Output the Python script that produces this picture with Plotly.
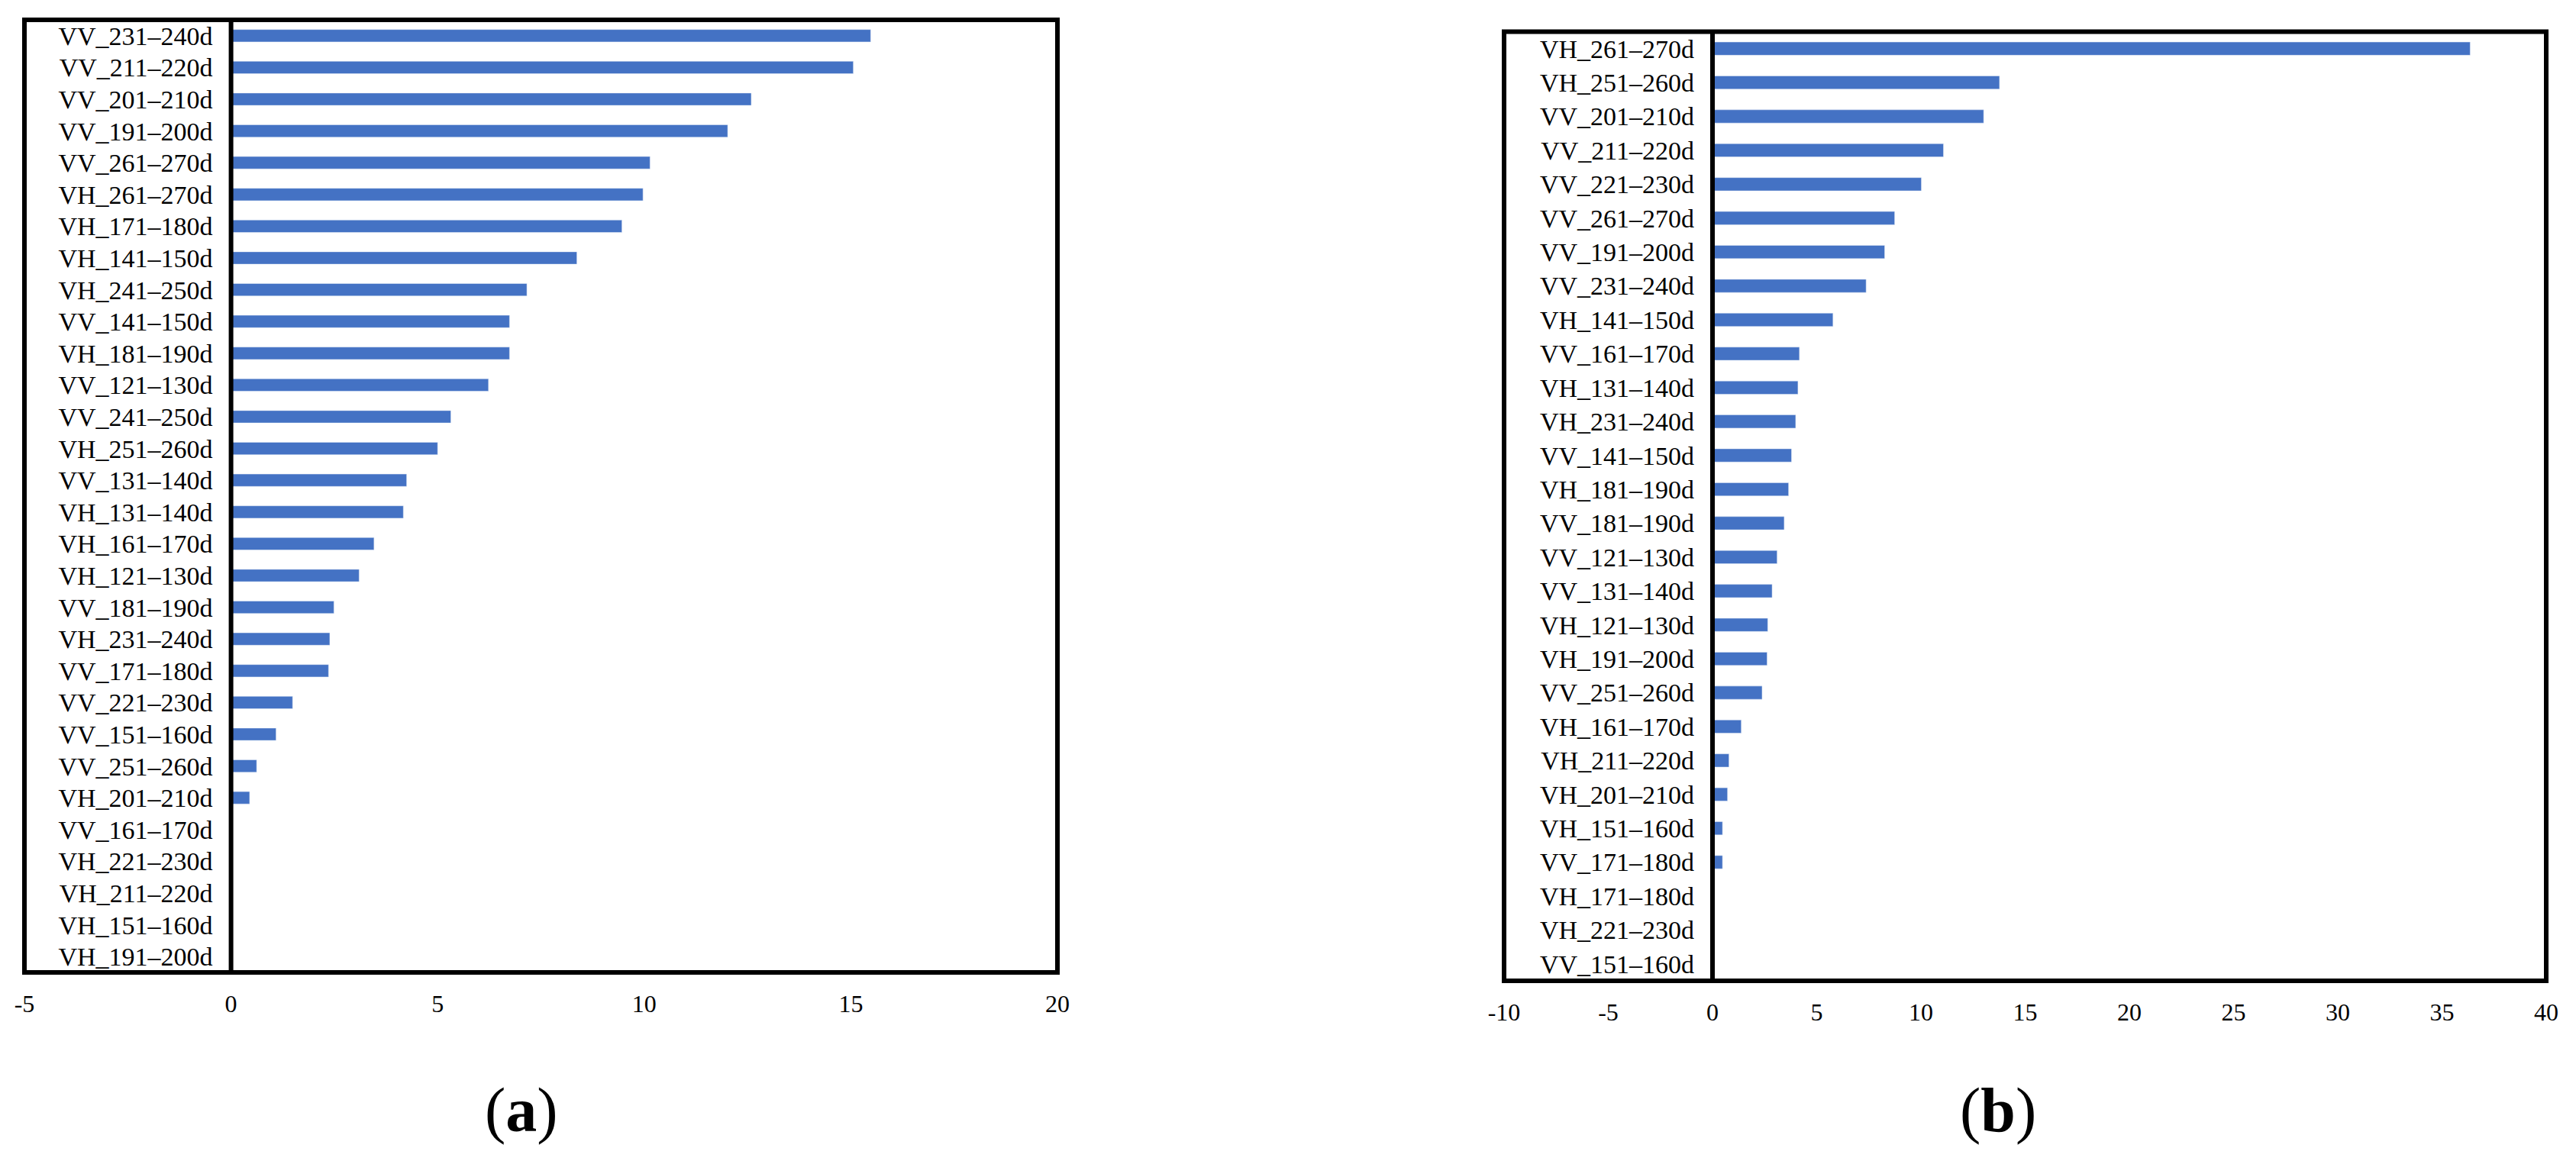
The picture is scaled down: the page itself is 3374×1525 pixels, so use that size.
import plotly.graph_objects as go

# ---------------- data ----------------
cats_a = ["VV_231–240d", "VV_211–220d", "VV_201–210d", "VV_191–200d", "VV_261–270d",
          "VH_261–270d", "VH_171–180d", "VH_141–150d", "VH_241–250d", "VV_141–150d",
          "VH_181–190d", "VV_121–130d", "VV_241–250d", "VH_251–260d", "VV_131–140d",
          "VH_131–140d", "VH_161–170d", "VH_121–130d", "VV_181–190d", "VH_231–240d",
          "VV_171–180d", "VV_221–230d", "VV_151–160d", "VV_251–260d", "VH_201–210d",
          "VV_161–170d", "VH_221–230d", "VH_211–220d", "VH_151–160d", "VH_191–200d"]
vals_a = [15.48, 15.06, 12.59, 12.02, 10.14,
          9.97, 9.46, 8.37, 7.16, 6.74,
          6.74, 6.23, 5.32, 5.00, 4.25,
          4.17, 3.46, 3.10, 2.49, 2.39,
          2.36, 1.49, 1.09, 0.62, 0.45,
          0, 0, 0, 0, 0]

cats_b = ["VH_261–270d", "VH_251–260d", "VV_201–210d", "VV_211–220d", "VV_221–230d",
          "VV_261–270d", "VV_191–200d", "VV_231–240d", "VH_141–150d", "VV_161–170d",
          "VH_131–140d", "VH_231–240d", "VV_141–150d", "VH_181–190d", "VV_181–190d",
          "VV_121–130d", "VV_131–140d", "VH_121–130d", "VH_191–200d", "VV_251–260d",
          "VH_161–170d", "VH_211–220d", "VH_201–210d", "VH_151–160d", "VV_171–180d",
          "VH_171–180d", "VH_221–230d", "VV_151–160d"]
vals_b = [36.35, 13.77, 13.01, 11.08, 10.02,
          8.74, 8.26, 7.37, 5.78, 4.17,
          4.10, 3.99, 3.79, 3.65, 3.44,
          3.10, 2.86, 2.65, 2.62, 2.38,
          1.38, 0.79, 0.72, 0.48, 0.48,
          0, 0, 0]

range_a = [-5, 20]
range_b = [-10, 40]
ticks_a = [-5, 0, 5, 10, 15, 20]
ticks_b = [-10, -5, 0, 5, 10, 15, 20, 25, 30, 35, 40]
ticktext_a = ["-5", "0", "5", "10", "15", "20"]
ticktext_b = ["-10", "-5", "0", "5", "10", "15", "20", "25", "30", "35", "40"]
panel_labels = ["(<b>a</b>)", "(<b>b</b>)"]

# ---------------- layout geometry ----------------
W, H = 3374, 1525
FONT = "Liberation Serif, Times New Roman, serif"
BAR_COLOR = "#4472C4"

def px_x(p):
    return p / W

def px_y(p):
    return 1 - p / H

dom_xa = [px_x(32), px_x(1385)]
dom_ya = [px_y(1274), px_y(26)]
dom_xb = [px_x(1970), px_x(3335)]
dom_yb = [px_y(1285), px_y(41.5)]

def zero_pos(dom, rng):
    return dom[0] + (dom[1] - dom[0]) * (0 - rng[0]) / (rng[1] - rng[0])

fig = go.Figure()
fig.add_trace(go.Bar(y=cats_a, x=vals_a, orientation="h", marker_color=BAR_COLOR,
                     xaxis="x", yaxis="y", showlegend=False))
fig.add_trace(go.Bar(y=cats_b, x=vals_b, orientation="h", marker_color=BAR_COLOR,
                     xaxis="x2", yaxis="y2", showlegend=False))

tickfont = dict(family=FONT, size=32, color="black")
labfont = dict(family=FONT, size=34, color="black")

common_x = dict(showgrid=False, zeroline=False, showline=False, ticks="",
                tickfont=tickfont, tickmode="array", ticklabelstandoff=19,
                automargin=False, fixedrange=True)
common_y = dict(type="category", showgrid=False, zeroline=False, showline=False, ticks="",
                tickfont=labfont, autorange="reversed", anchor="free", side="left",
                ticklabelstandoff=24, automargin=False, fixedrange=True)

fig.update_layout(
    width=W, height=H,
    margin=dict(l=0, r=0, t=0, b=0, pad=0, autoexpand=False),
    paper_bgcolor="white", plot_bgcolor="white",
    bargap=0.61,
    xaxis=dict(domain=dom_xa, range=range_a, anchor="y",
               tickvals=ticks_a, ticktext=ticktext_a, **common_x),
    yaxis=dict(domain=dom_ya, position=zero_pos(dom_xa, range_a),
               categoryorder="array", categoryarray=cats_a, **common_y),
    xaxis2=dict(domain=dom_xb, range=range_b, anchor="y2",
                tickvals=ticks_b, ticktext=ticktext_b, **common_x),
    yaxis2=dict(domain=dom_yb, position=zero_pos(dom_xb, range_b),
                categoryorder="array", categoryarray=cats_b, **common_y),
)

shapes = []
for xr, yr in (("x", "y"), ("x2", "y2")):
    shapes.append(dict(type="rect", xref=f"{xr} domain", yref=f"{yr} domain",
                       x0=0, x1=1, y0=0, y1=1, line=dict(color="black", width=6),
                       layer="above"))
    shapes.append(dict(type="line", xref=xr, yref=f"{yr} domain",
                       x0=0, x1=0, y0=0, y1=1, line=dict(color="black", width=6),
                       layer="above"))
fig.update_layout(shapes=shapes)

for lab, xc in zip(panel_labels, (683, 2617)):
    fig.add_annotation(text=lab, xref="paper", yref="paper",
                       x=px_x(xc), y=px_y(1454), showarrow=False,
                       xanchor="center", yanchor="middle",
                       font=dict(family=FONT, size=82, color="black"))

fig.write_html("out.html", config={"displayModeBar": False})

# remove the default page margin so the figure sits at the window origin
with open("out.html", "r", encoding="utf-8") as f:
    html = f.read()
html = html.replace("<head>", "<head><style>html,body{margin:0;padding:0;overflow:hidden;}</style>", 1)
with open("out.html", "w", encoding="utf-8") as f:
    f.write(html)
